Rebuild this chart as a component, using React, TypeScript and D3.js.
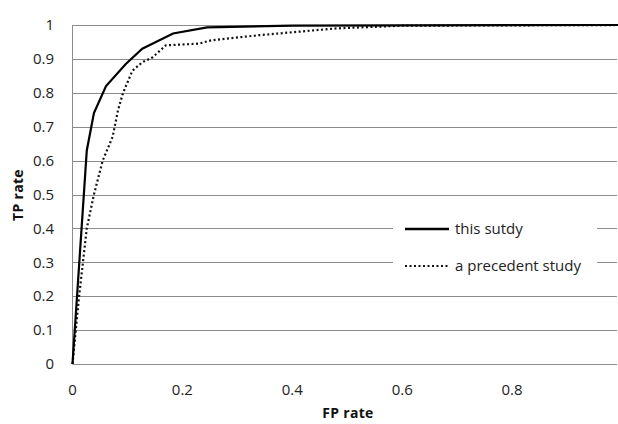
import React from 'react';
import * as d3 from 'd3';

// ROC points: [FP rate, TP rate]
const thisStudy: [number, number][] = [
  [0, 0], [0.026, 0.63], [0.039, 0.74], [0.061, 0.82], [0.097, 0.885], [0.127, 0.93],
  [0.183, 0.975], [0.245, 0.993], [0.4, 0.998], [0.6, 0.999], [1, 1],
];
const precedentStudy: [number, number][] = [
  [0, 0], [0.012, 0.2], [0.019, 0.3], [0.026, 0.4], [0.039, 0.5], [0.055, 0.6],
  [0.073, 0.67], [0.083, 0.75], [0.092, 0.8], [0.109, 0.865], [0.127, 0.89],
  [0.146, 0.905], [0.17, 0.94], [0.23, 0.945], [0.253, 0.955], [0.34, 0.97],
  [0.41, 0.98], [0.48, 0.99], [0.6, 0.998], [1, 1],
];
// the "1" label falls past the picture's right edge, so it isn't drawn
const xTicks = [0, 0.2, 0.4, 0.6, 0.8];
const yTicks = [0, 0.1, 0.2, 0.3, 0.4, 0.5, 0.6, 0.7, 0.8, 0.9, 1];
const legendLabels = ['this sutdy', 'a precedent study'];

const W = 618;
const H = 424;
const FONT = '"Open Sans", "Liberation Sans", sans-serif';

export default function App() {
  const x = d3.scaleLinear().domain([0, 1]).range([72.5, 622]);
  const y = d3.scaleLinear().domain([0, 1]).range([364, 25]);
  const line = d3.line<[number, number]>().x(d => x(d[0])).y(d => y(d[1]));
  const fmt = (v: number) => (v === 0 || v === 1 ? String(v) : v.toFixed(1));

  const legX0 = 393;
  const legX1 = 597;
  const legY = [229, 266];
  const gridEnd = 617;

  return (
    <svg width={W} height={H} style={{ position: 'absolute', left: 0, top: 0, background: '#fff' }}
      fontFamily={FONT}>
      {yTicks.map(t => {
        const yy = Math.round(y(t)) + 0.5;
        const cut = t === 0.4 || t === 0.3;
        return cut ? (
          <g key={t}>
            <line x1={x(0)} x2={legX0} y1={yy} y2={yy} stroke="#8c8c8c" />
            <line x1={legX1} x2={gridEnd} y1={yy} y2={yy} stroke="#8c8c8c" />
          </g>
        ) : (
          <line key={t} x1={x(0)} x2={gridEnd} y1={yy} y2={yy} stroke="#8c8c8c" />
        );
      })}
      <line x1={x(0)} x2={x(0)} y1={y(1)} y2={y(0)} stroke="#8c8c8c" />
      {yTicks.map(t => (
        <text key={t} x={54} y={y(t)} dy="0.35em" textAnchor="end" fontSize={15} fill="#222">
          {fmt(t)}
        </text>
      ))}
      {xTicks.map(t => (
        <text key={t} x={x(t)} y={395} textAnchor="middle" fontSize={15} fill="#222">
          {fmt(t)}
        </text>
      ))}
      <text x={348} y={418} textAnchor="middle" fontSize={14} fontWeight="bold" fill="#111"
        letterSpacing={0.3}>FP rate</text>
      <text transform="translate(23,195) rotate(-90)" textAnchor="middle" fontSize={14}
        fontWeight="bold" fill="#111" letterSpacing={0.3}>TP rate</text>
      <path d={line(precedentStudy) || ''} fill="none" stroke="#111" strokeWidth={2.2}
        strokeDasharray="2 2.5" />
      <path d={line(thisStudy) || ''} fill="none" stroke="#000" strokeWidth={2.2} />
      <line x1={405} x2={449} y1={legY[0]} y2={legY[0]} stroke="#000" strokeWidth={2.5} />
      <line x1={405} x2={449} y1={legY[1]} y2={legY[1]} stroke="#111" strokeWidth={2}
        strokeDasharray="2 2.5" />
      {legendLabels.map((l, i) => (
        <text key={l} x={455} y={legY[i]} dy="0.35em" fontSize={15} fill="#222">{l}</text>
      ))}
    </svg>
  );
}
